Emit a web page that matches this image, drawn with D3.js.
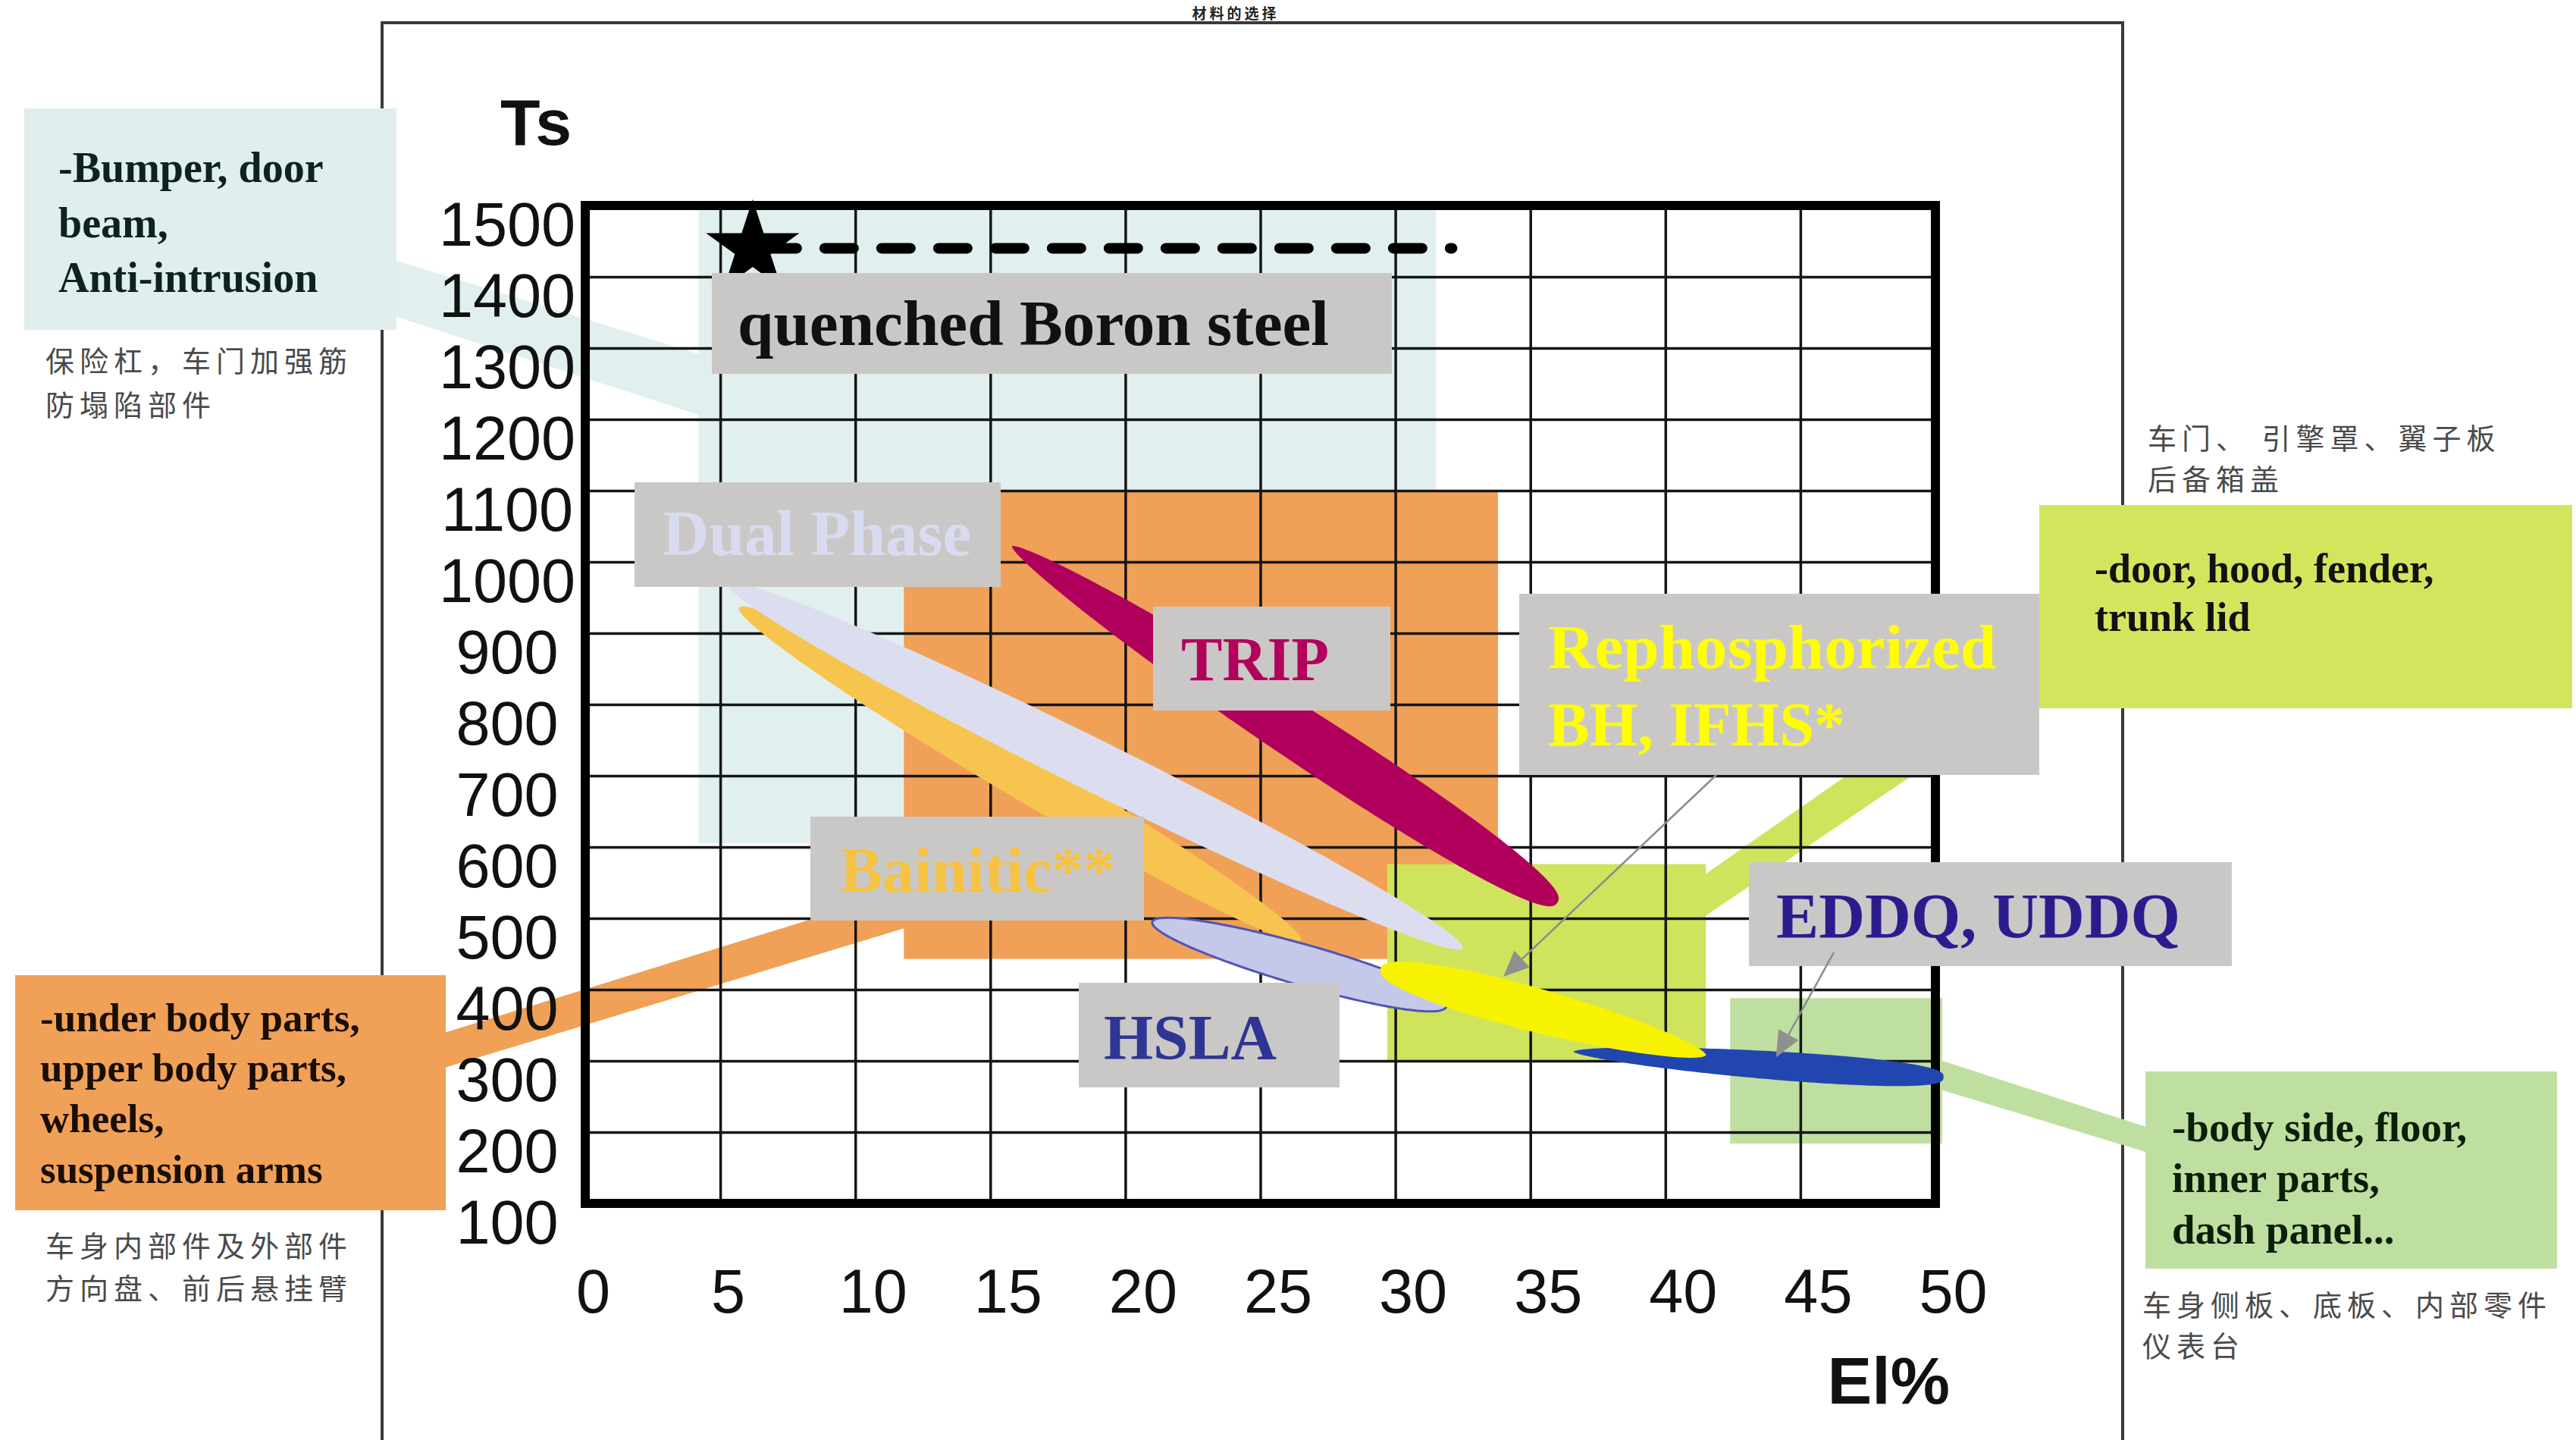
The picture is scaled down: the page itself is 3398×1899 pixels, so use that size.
<!DOCTYPE html>
<html>
<head>
<meta charset="utf-8">
<script src="https://cdn.jsdelivr.net/npm/d3@7"></script>
<style>
  html, body { margin: 0; padding: 0; background: #ffffff; }
  svg { display: block; }
</style>
</head>
<body>
<svg id="chart" width="3398" height="1899"></svg>
<script>
// ---- axis ticks ----
const elTicks = [0, 5, 10, 15, 20, 25, 30, 35, 40, 45, 50];
const tsTicks = [100, 200, 300, 400, 500, 600, 700, 800, 900, 1000, 1100, 1200, 1300, 1400, 1500];

// ---- application zones (El % range, Ts range) ----
const zoneNames = ["Anti-intrusion", "Under body", "Outer panels", "Inner parts"];
const zoneElFrom = [4.2, 11.8, 29.7, 42.4];
const zoneElTo = [31.5, 33.8, 41.5, 50.25];
const zoneTsFrom = [605, 443, 299, 184];
const zoneTsTo = [1500, 1100, 576, 388];

// ---- steel grade bands: long axis from (El, Ts) start to (El, Ts) end ----
const gradeNames = ["Bainitic**", "Dual Phase", "TRIP", "HSLA", "EDDQ, UDDQ", "Rephosphorized BH, IFHS*"];
const gradeElStart = [5.7, 5.3, 15.8, 21.0, 36.6, 29.45];
const gradeTsStart = [936, 969, 1022, 495, 313, 429];
const gradeElEnd = [26.5, 32.5, 36.0, 31.9, 50.3, 41.5];
const gradeTsEnd = [469, 458, 522, 377, 277, 308];

// ---- quenched Boron steel point and its reach ----
const boronEl = [6.2];
const boronTs = [1440];
const boronReachEl = [32.1];

// ---- pointer targets (El, Ts) for Rephosphorized and EDDQ labels ----
const pointerEl = [34.0, 44.1];
const pointerTs = [418, 305];

// ---------------------------------------------------------------
const svg = d3.select("#chart");
const W = 3398, H = 1899;

const plot = { left: 772, right: 2553, top: 271, bottom: 1587 };
const x = d3.scaleLinear().domain([0, 50]).range([plot.left, plot.right]);
const y = d3.scaleLinear().domain([100, 1500]).range([plot.bottom, plot.top]);

const serif = "'Liberation Serif', 'Times New Roman', serif";
const sans = "'Liberation Sans', Arial, sans-serif";
const cjk = "'Noto Sans CJK SC', sans-serif";

const zoneColors = ["#e1efef", "#f0a157", "#d0e35c", "#bfdfa0"];
const gradeStyle = [
  { fill: "#f6c44f", half: 31, a: 0.5, b: 0.5 },
  { fill: "#dcdeef", half: 34, a: 0.5, b: 0.5 },
  { fill: "#b0005c", half: 36, a: 0.62, b: 0.4 },
  { fill: "#c6c8e9", half: 27, a: 0.5, b: 0.45, stroke: "#5055b5" },
  { fill: "#2246b0", half: 19, a: 0.62, b: 0.35 },
  { fill: "#f7f200", half: 29, a: 0.42, b: 0.6 }
];

svg.append("rect").attr("width", W).attr("height", H).attr("fill", "#ffffff");

// slide title above the frame
svg.append("text")
  .attr("x", 1630).attr("y", 25)
  .attr("text-anchor", "middle")
  .attr("font-family", cjk).attr("font-weight", "bold").attr("font-size", 19).attr("fill", "#222")
  .attr("letter-spacing", 4)
  .text("材料的选择");

// outer slide frame
svg.append("path")
  .attr("d", `M504,${H} L504,30 L2800,30 L2800,${H}`)
  .attr("fill", "none").attr("stroke", "#3a3a3a").attr("stroke-width", 4);

// ---- connector bands from zones to the application callouts ----
const bands = [
  { color: zoneColors[0], pts: [[505, 338], [925, 468], [925, 548], [505, 412]] },
  { color: zoneColors[1], pts: [[560, 1370], [1200, 1172], [1200, 1222], [560, 1416]] },
  { color: zoneColors[2], pts: [[2245, 1156], [2700, 838], [2700, 902], [2245, 1211]] },
  { color: zoneColors[3], pts: [[2550, 1395], [2840, 1489], [2840, 1522], [2550, 1434]] }
];
svg.append("g").selectAll("path").data(bands).join("path")
  .attr("d", d => d3.line()(d.pts) + "Z")
  .attr("fill", d => d.color);

// ---- application zones ----
const zones = zoneNames.map((n, i) => ({
  name: n, x0: zoneElFrom[i], x1: zoneElTo[i], y0: zoneTsFrom[i], y1: zoneTsTo[i], color: zoneColors[i]
}));
svg.append("g").selectAll("rect").data(zones).join("rect")
  .attr("x", d => x(d.x0))
  .attr("y", d => y(d.y1))
  .attr("width", d => x(d.x1) - x(d.x0))
  .attr("height", d => y(d.y0) - y(d.y1))
  .attr("fill", d => d.color);

// ---- grid ----
const gridX = svg.append("g").attr("transform", `translate(0,${plot.bottom})`)
  .call(d3.axisBottom(x).tickValues(elTicks.slice(1, -1)).tickSize(-(plot.bottom - plot.top)).tickFormat(""));
const gridY = svg.append("g").attr("transform", `translate(${plot.left},0)`)
  .call(d3.axisLeft(y).tickValues(tsTicks.slice(1, -1)).tickSize(-(plot.right - plot.left)).tickFormat(""));
[gridX, gridY].forEach(g => {
  g.select(".domain").remove();
  g.selectAll(".tick line").attr("stroke", "#151515").attr("stroke-width", 3.5);
});

// ---- heavy plot frame ----
svg.append("rect")
  .attr("x", plot.left).attr("y", plot.top)
  .attr("width", plot.right - plot.left).attr("height", plot.bottom - plot.top)
  .attr("fill", "none").attr("stroke", "#000").attr("stroke-width", 12);

// ---- quenched Boron steel: star and dashed reach line ----
svg.append("line")
  .attr("x1", x(boronEl[0]) + 20).attr("x2", x(boronReachEl[0]))
  .attr("y1", y(boronTs[0])).attr("y2", y(boronTs[0]))
  .attr("stroke", "#000").attr("stroke-width", 14)
  .attr("stroke-linecap", "round").attr("stroke-dasharray", "38 37");
svg.append("path")
  .attr("transform", `translate(${x(boronEl[0])},${y(boronTs[0])})`)
  .attr("d", d3.symbol(d3.symbolStar, 4700)())
  .attr("fill", "#000");

// ---- steel grade bands ----
function leafPath(p0, p1, half, a, b) {
  const dx = p1[0] - p0[0], dy = p1[1] - p0[1];
  const L = Math.hypot(dx, dy);
  const nx = -dy / L, ny = dx / L;
  const tm = a / (a + b);
  const fmax = Math.pow(tm, a) * Math.pow(1 - tm, b);
  const N = 120, upper = [], lower = [];
  for (let i = 0; i <= N; i++) {
    const t = (1 - Math.cos(Math.PI * i / N)) / 2;
    const w = half * Math.pow(t, a) * Math.pow(1 - t, b) / fmax;
    const cx = p0[0] + dx * t, cy = p0[1] + dy * t;
    upper.push([cx + nx * w, cy + ny * w]);
    lower.push([cx - nx * w, cy - ny * w]);
  }
  return d3.line()(upper.concat(lower.reverse())) + "Z";
}
const grades = gradeNames.map((n, i) => ({
  name: n,
  p0: [x(gradeElStart[i]), y(gradeTsStart[i])],
  p1: [x(gradeElEnd[i]), y(gradeTsEnd[i])],
  s: gradeStyle[i]
}));
svg.append("g").selectAll("path").data(grades).join("path")
  .attr("d", d => leafPath(d.p0, d.p1, d.s.half, d.s.a, d.s.b))
  .attr("fill", d => d.s.fill)
  .attr("stroke", d => d.s.stroke || "none")
  .attr("stroke-width", 3);

// ---- grade labels on grey plates ----
const plates = [
  { x: 939, y: 360, w: 897, h: 133, lines: ["quenched Boron steel"], color: "#111", tx: 973, ty: [455], size: 84, len: 780 },
  { x: 837, y: 636, w: 483, h: 138, lines: ["Dual Phase"], color: "#d9dcf0", tx: 874, ty: [732], size: 85, len: 407 },
  { x: 1521, y: 800, w: 313, h: 137, lines: ["TRIP"], color: "#b3005c", tx: 1558, ty: [897], size: 82, len: 195 },
  { x: 2004, y: 783, w: 686, h: 239, lines: ["Rephosphorized", "BH, IFHS*"], color: "#ffff00", tx: 2042, ty: [881, 983], size: 82, len: 591 },
  { x: 1069, y: 1077, w: 440, h: 137, lines: ["Bainitic**"], color: "#f5c242", tx: 1108, ty: [1176], size: 84, len: 363 },
  { x: 1423, y: 1296, w: 344, h: 138, lines: ["HSLA"], color: "#2f3592", tx: 1456, ty: [1397], size: 84, len: 228 },
  { x: 2307, y: 1137, w: 637, h: 137, lines: ["EDDQ, UDDQ"], color: "#2b1c8e", tx: 2343, ty: [1237], size: 84, len: 533 }
];
const plateG = svg.append("g").selectAll("g").data(plates).join("g");
plateG.append("rect")
  .attr("x", d => d.x).attr("y", d => d.y).attr("width", d => d.w).attr("height", d => d.h)
  .attr("fill", "#cac8c7");
plateG.each(function (d) {
  const g = d3.select(this);
  d.lines.forEach((ln, k) => {
    const t = g.append("text")
      .attr("x", d.tx).attr("y", d.ty[k])
      .attr("font-family", serif).attr("font-weight", "bold")
      .attr("font-size", d.size).attr("fill", d.color)
      .text(ln);
    if (k === 0) t.attr("textLength", d.len).attr("lengthAdjust", "spacingAndGlyphs");
  });
});

// ---- pointers from the Rephosphorized and EDDQ plates ----
const pointerFrom = [[2264, 1022], [2419, 1256]];
pointerEl.forEach((e, i) => {
  const tip = [x(e), y(pointerTs[i])];
  const from = pointerFrom[i];
  const ang = Math.atan2(tip[1] - from[1], tip[0] - from[0]);
  const hl = 34, hw = 15;
  const bx = tip[0] - hl * Math.cos(ang), by = tip[1] - hl * Math.sin(ang);
  svg.append("line")
    .attr("x1", from[0]).attr("y1", from[1]).attr("x2", bx).attr("y2", by)
    .attr("stroke", "#8c8c8c").attr("stroke-width", 2.5);
  svg.append("path")
    .attr("d", d3.line()([
      tip,
      [bx + hw * Math.sin(ang), by - hw * Math.cos(ang)],
      [bx - hw * Math.sin(ang), by + hw * Math.cos(ang)]
    ]) + "Z")
    .attr("fill", "#909090");
});

// ---- application callouts ----
const callouts = [
  { x: 32, y: 143, w: 491, h: 292, fill: "#e1eeee", color: "#0d2222", tx: 77, size: 56,
    lines: ["-Bumper, door", "beam,", "Anti-intrusion"], ty: [240, 313, 385],
    note: ["保险杠，车门加强筋", "防塌陷部件"], nx: 60, ny: [490, 548] },
  { x: 2690, y: 666, w: 703, h: 268, fill: "#d3e55c", color: "#111", tx: 2763, size: 54,
    lines: ["-door, hood, fender,", "trunk lid"], ty: [768, 832],
    note: ["车门、 引擎罩、翼子板", "后备箱盖"], nx: 2833, ny: [592, 646] },
  { x: 20, y: 1286, w: 568, h: 310, fill: "#f0a157", color: "#1a0e04", tx: 53, size: 53,
    lines: ["-under body parts,", "upper body parts,", "wheels,", "suspension arms"], ty: [1360, 1426, 1493, 1560],
    note: ["车身内部件及外部件", "方向盘、前后悬挂臂"], nx: 60, ny: [1657, 1713] },
  { x: 2830, y: 1413, w: 543, h: 260, fill: "#bfdfa0", color: "#0a1f0a", tx: 2865, size: 55,
    lines: ["-body side, floor,", "inner parts,", "dash panel..."], ty: [1505, 1572, 1640],
    note: ["车身侧板、底板、内部零件", "仪表台"], nx: 2826, ny: [1735, 1789] }
];
const callG = svg.append("g").selectAll("g").data(callouts).join("g");
callG.append("rect")
  .attr("x", d => d.x).attr("y", d => d.y).attr("width", d => d.w).attr("height", d => d.h)
  .attr("fill", d => d.fill);
callG.each(function (d) {
  const g = d3.select(this);
  d.lines.forEach((ln, k) => {
    g.append("text")
      .attr("x", d.tx).attr("y", d.ty[k])
      .attr("font-family", serif).attr("font-weight", "bold")
      .attr("font-size", d.size).attr("fill", d.color)
      .text(ln);
  });
  d.note.forEach((ln, k) => {
    g.append("text")
      .attr("x", d.nx).attr("y", d.ny[k])
      .attr("font-family", cjk).attr("font-size", 38)
      .attr("letter-spacing", 7).attr("fill", "#4a4a4a")
      .text(ln);
  });
});

// ---- tick labels ----
const axY = svg.append("g").attr("transform", `translate(${plot.left},0)`)
  .call(d3.axisLeft(y).tickValues(tsTicks).tickSize(0).tickFormat(d3.format("d")));
axY.select(".domain").remove();
axY.selectAll(".tick text")
  .attr("x", -103).attr("y", 52).attr("dy", null)
  .attr("text-anchor", "middle")
  .attr("font-family", sans).attr("font-size", 81).attr("fill", "#111");

const axX = svg.append("g").attr("transform", `translate(0,${plot.bottom})`)
  .call(d3.axisBottom(x).tickValues(elTicks).tickSize(0).tickFormat(d3.format("d")));
axX.select(".domain").remove();
axX.selectAll(".tick text")
  .attr("x", d => (String(d).length > 1 ? 23 : 10))
  .attr("y", 144).attr("dy", null)
  .attr("text-anchor", "middle")
  .attr("font-family", sans).attr("font-size", 81).attr("fill", "#111");

// ---- axis titles ----
svg.append("text")
  .attr("x", 754).attr("y", 191).attr("text-anchor", "end")
  .attr("font-family", sans).attr("font-weight", "bold").attr("font-size", 86).attr("fill", "#111")
  .text("Ts");
svg.append("text")
  .attr("x", 2572).attr("y", 1851).attr("text-anchor", "end")
  .attr("font-family", sans).attr("font-weight", "bold").attr("font-size", 88).attr("fill", "#111")
  .text("El%");
</script>
</body>
</html>
